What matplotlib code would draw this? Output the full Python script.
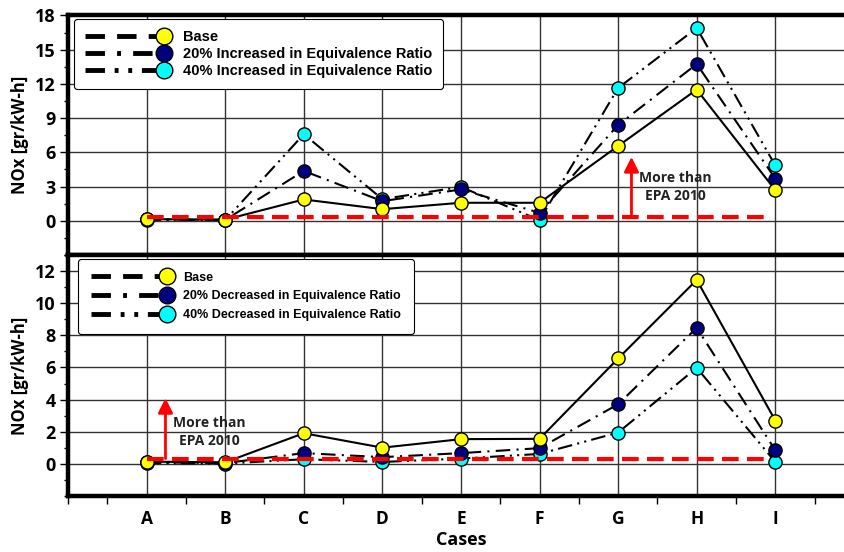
import matplotlib
matplotlib.use('Agg')
import matplotlib.pyplot as plt
from matplotlib.lines import Line2D
from matplotlib.legend_handler import HandlerLine2D
from matplotlib.ticker import MultipleLocator

cases = ['A', 'B', 'C', 'D', 'E', 'F', 'G', 'H', 'I']

# upper panel: increased equivalence ratio
top_base = [0.15, 0.1, 1.87, 1.02, 1.58, 1.58, 6.56, 11.5, 2.69]
top_inc20 = [0.12, 0.08, 4.37, 1.72, 2.75, 0.7, 8.4, 13.74, 3.7]
top_inc40 = [0.1, 0.06, 7.59, 1.9, 2.97, 0.06, 11.64, 16.9, 4.85]

# lower panel: decreased equivalence ratio
bot_base = [0.14, 0.1, 1.91, 1.01, 1.54, 1.56, 6.56, 11.45, 2.7]
bot_dec20 = [0.1, 0.05, 0.67, 0.42, 0.67, 0.98, 3.71, 8.47, 0.85]
bot_dec40 = [0.05, 0.02, 0.29, 0.12, 0.33, 0.62, 1.95, 5.98, 0.12]

epa_limit = 0.33
epa_start, epa_end = 1, 8.9

top_labels = ['Base', '20% Increased in Equivalence Ratio', '40% Increased in Equivalence Ratio']
bot_labels = ['Base', '20% Decreased in Equivalence Ratio', '40% Decreased in Equivalence Ratio']

colors = ['#FFFF00', '#00007F', '#00FFFF']
plot_dashes = [None, [7, 3, 1, 3], [7, 2.5, 1, 2.5, 1, 2.5]]
legend_dashes = [[4, 2.5], [4, 2.5, 0.8, 2.5], [4, 2, 0.8, 2, 0.8, 2]]

tick_font = 'Open Sans'


class EndMarkerHandler(HandlerLine2D):
    # legend marker sits at the right end of the line
    def create_artists(self, *args, **kwargs):
        arts = super().create_artists(*args, **kwargs)
        for a in arts:
            a.set_markevery([2])
        return arts


def bold(labels):
    for lab in labels:
        lab.set_fontweight('bold')
        lab.set_family(tick_font)


def draw_panel(ax, series, labels, ylim, yticks, yminor, arrow_x, arrow_top, text_xy,
               leg_anchor, leg_size, leg_space, leg_pad, leg_hlen):
    x = list(range(1, len(cases) + 1))
    # 40% first so the base markers end up on top
    for i in [2, 1, 0]:
        kw = dict(color='black', lw=1.5, marker='o', markersize=9.5,
                  markerfacecolor=colors[i], markeredgecolor='black', markeredgewidth=1, zorder=3 + (2 - i))
        if plot_dashes[i] is not None:
            kw['dashes'] = plot_dashes[i]
        ax.plot(x, series[i], **kw)

    ax.plot([epa_start, epa_end], [epa_limit, epa_limit], color='red', lw=3, dashes=[4, 2], zorder=7)
    ax.annotate('', xy=(arrow_x, arrow_top), xytext=(arrow_x, epa_limit),
                arrowprops=dict(arrowstyle='-|>', color='red', lw=2, mutation_scale=22, shrinkA=0, shrinkB=0),
                zorder=8)
    ax.text(text_xy[0], text_xy[1], 'More than\nEPA 2010', ha='center', va='center', fontsize=10,
            fontweight='bold', family=tick_font, linespacing=1.35, color='#222222', zorder=8)

    ax.set_xlim(0, 10)
    ax.set_ylim(*ylim)
    ax.set_xticks(x)
    ax.set_yticks(yticks)
    ax.xaxis.set_minor_locator(MultipleLocator(0.5))
    ax.yaxis.set_minor_locator(MultipleLocator(yminor))
    ax.grid(True, which='major', color='#333333', lw=1)
    ax.set_axisbelow(True)
    for s in ['top', 'left', 'bottom']:
        ax.spines[s].set_linewidth(3.2)
    ax.spines['right'].set_visible(False)
    ax.tick_params(axis='y', which='major', direction='out', length=6, width=1, labelsize=13, pad=3)
    ax.tick_params(axis='y', which='minor', direction='out', length=3, width=1)
    ax.tick_params(axis='x', which='major', length=0, labelsize=12.5, pad=10)
    ax.tick_params(axis='x', which='minor', direction='out', length=6, width=1)
    ax.set_ylabel('NOx [gr/kW-h]', fontsize=12, fontweight='bold', family=tick_font)
    ax.yaxis.set_label_coords(-0.05, 0.5)

    handles = []
    for i in range(3):
        handles.append(Line2D([0], [0], color='black', lw=3.5, dashes=legend_dashes[i], marker='o',
                              markersize=12, markerfacecolor=colors[i], markeredgecolor='black',
                              markeredgewidth=1))
    leg = ax.legend(handles, labels, loc='upper left', bbox_to_anchor=leg_anchor, borderaxespad=0,
                    handlelength=leg_hlen, handletextpad=1.3, labelspacing=leg_space, borderpad=leg_pad,
                    fancybox=True, framealpha=1, edgecolor='black',
                    handler_map={Line2D: EndMarkerHandler()},
                    prop=dict(family='Liberation Sans', weight='bold', size=leg_size))
    leg.get_frame().set_linewidth(0.8)
    leg.set_zorder(10)


fig = plt.figure(figsize=(8.45, 5.52), dpi=100)
ax_top = fig.add_axes([0.0805, 0.538, 0.930, 0.434])
ax_bot = fig.add_axes([0.0805, 0.1014, 0.930, 0.4366])

draw_panel(ax_top, [top_base, top_inc20, top_inc40], top_labels, (-3, 18), [0, 3, 6, 9, 12, 15, 18], 1.5,
           7.17, 5.6, (7.73, 2.97), (0.008, 0.985), 10.5, 0.2, 0.75, 5.4)
draw_panel(ax_bot, [bot_base, bot_dec20, bot_dec40], bot_labels, (-2, 13), [0, 2, 4, 6, 8, 10, 12], 1,
           1.24, 4.1, (1.8, 2.0), (0.013, 0.983), 9, 0.55, 1.0, 6.1)

ax_top.set_xticklabels([])
ax_bot.set_xticklabels(cases)
bold(ax_top.get_yticklabels() + ax_bot.get_yticklabels() + ax_bot.get_xticklabels())
ax_bot.set_xlabel('Cases', fontsize=13, fontweight='bold', family=tick_font, labelpad=2)

fig.savefig('out.png', dpi=100)
